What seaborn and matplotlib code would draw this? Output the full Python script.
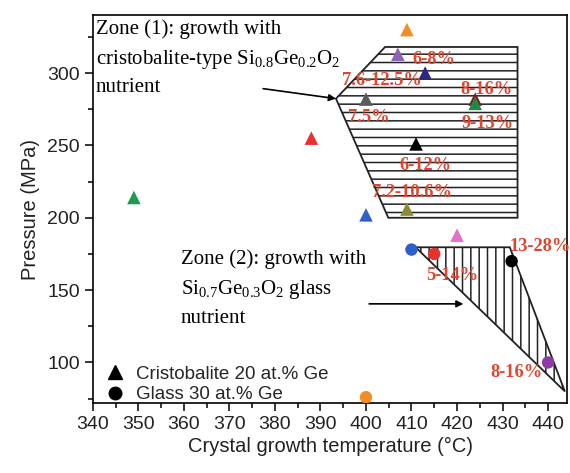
import numpy as np
import pandas as pd
import matplotlib
matplotlib.use("Agg")
import matplotlib.pyplot as plt
from matplotlib.patches import Polygon
from matplotlib.lines import Line2D
from matplotlib.ticker import MultipleLocator
import seaborn as sns

# cristobalite nutrient runs (triangles)
tri_temp = [349, 388, 409, 407, 413, 400, 424, 424, 411, 409, 400, 420]
tri_press = [214, 255, 330, 313, 300, 282, 282, 279, 251, 206, 202, 188]
tri_color = ["#1e9a4e", "#e8312a", "#f28c28", "#8a63b8", "#2b2a7e", "#5a5a5a",
             "#7b1e1e", "#1f8a45", "#000000", "#8b8b35", "#2f5fc8", "#e070c8"]

# glass nutrient runs (circles)
circ_temp = [410, 415, 432, 440, 400]
circ_press = [178, 175, 170, 100, 76]
circ_color = ["#2f5fc8", "#e8312a", "#000000", "#8e3aa8", "#f28c28"]

# Ge content labels
pct_text = ["6-8%", "7.6-12.5%", "8-16%", "7.5%", "9-13%", "6-12%", "7.2-10.6%",
            "13-28%", "5-14%", "8-16%"]
pct_temp = [410.3, 394.7, 420.7, 396.0, 421.0, 407.3, 401.3, 431.6, 413.3, 427.4]
pct_press = [309.4, 295.0, 288.8, 269.4, 265.3, 236.3, 217.7, 180.0, 159.8, 93.0]

# zone outlines
zone1_temp = [404.2, 433.3, 433.3, 404.9, 393.4]
zone1_press = [318, 318, 200, 200, 282.3]
zone2_temp = [410.9, 431.6, 443.7]
zone2_press = [179.6, 179.6, 80]

sns.set_style("ticks")
plt.rcParams["font.family"] = ["Liberation Sans", "DejaVu Sans"]
plt.rcParams["mathtext.default"] = "regular"
plt.rcParams["hatch.linewidth"] = 1.1
plt.rcParams["hatch.color"] = "#222222"

fig = plt.figure(figsize=(5.7, 4.73), dpi=100)
ax = fig.add_axes([0.163, 0.148, 0.832, 0.82])

# hatched zones
p1 = Polygon(list(zip(zone1_temp, zone1_press)), closed=True, fill=False,
             hatch="--", edgecolor="#222222", linewidth=1.3, zorder=1)
p2 = Polygon(list(zip(zone2_temp, zone2_press)), closed=True, fill=False,
             hatch="||", edgecolor="#222222", linewidth=1.3, zorder=1)
ax.add_patch(p1)
ax.add_patch(p2)

tri = pd.DataFrame({"T": tri_temp, "P": tri_press, "c": tri_color})
circ = pd.DataFrame({"T": circ_temp, "P": circ_press, "c": circ_color})

sns.scatterplot(data=tri, x="T", y="P", hue="c", palette={c: c for c in tri_color},
                marker="^", s=95, edgecolor="none", legend=False, ax=ax, zorder=3)
sns.scatterplot(data=circ, x="T", y="P", hue="c", palette={c: c for c in circ_color},
                marker="o", s=80, edgecolor="none", legend=False, ax=ax, zorder=3)

for t, x, y in zip(pct_text, pct_temp, pct_press):
    ax.text(x, y, t, color="#e0452e", fontsize=13.3, fontweight="bold",
            family="Liberation Serif", ha="left", va="center", zorder=4)

serif = dict(family="Liberation Serif", fontsize=15, linespacing=1.55, color="black")
ax.text(0.006, 0.99, "Zone (1): growth with\ncristobalite-type Si$_{0.8}$Ge$_{0.2}$O$_2$\nnutrient",
        transform=ax.transAxes, ha="left", va="top", **serif)
ax.text(359.3, 178.0, "Zone (2): growth with\nSi$_{0.7}$Ge$_{0.3}$O$_2$ glass\nnutrient",
        ha="left", va="top", **serif)

# arrows pointing at the zones
ax.annotate("", xy=(393.4, 282.3), xytext=(377.4, 289.2),
            arrowprops=dict(arrowstyle="-|>", color="black", lw=1.2,
                            mutation_scale=10, shrinkA=0, shrinkB=0))
ax.annotate("", xy=(421.4, 140.5), xytext=(400.7, 140.5),
            arrowprops=dict(arrowstyle="-|>", color="black", lw=1.2,
                            mutation_scale=10, shrinkA=0, shrinkB=0))

ax.set_xlim(340, 444.2)
ax.set_ylim(72, 340)
ax.xaxis.set_major_locator(MultipleLocator(10))
ax.xaxis.set_minor_locator(MultipleLocator(5))
ax.yaxis.set_major_locator(MultipleLocator(50))
ax.yaxis.set_minor_locator(MultipleLocator(25))
ax.tick_params(which="major", direction="out", length=6, width=1.1,
               labelsize=14, color="black", labelcolor="#222222")
ax.tick_params(which="minor", direction="out", length=3.5, width=1.1, color="black")
for s in ax.spines.values():
    s.set_linewidth(1.2)
    s.set_color("black")

ax.set_xlabel("Crystal growth temperature (°C)", fontsize=14.5, color="#222222", labelpad=3)
ax.set_ylabel("Pressure (MPa)", fontsize=14.5, color="#222222", labelpad=5)

handles = [Line2D([], [], marker="^", color="black", linestyle="none", markersize=10),
           Line2D([], [], marker="o", color="black", linestyle="none", markersize=9)]
ax.legend(handles, ["Cristobalite 20 at.% Ge", "Glass 30 at.% Ge"], loc="lower left",
          bbox_to_anchor=(0.0, -0.035), frameon=False, fontsize=13.5, handlelength=1.0,
          handletextpad=0.6, labelspacing=0.2, borderaxespad=0.3)

fig.savefig("out.png", dpi=100)
